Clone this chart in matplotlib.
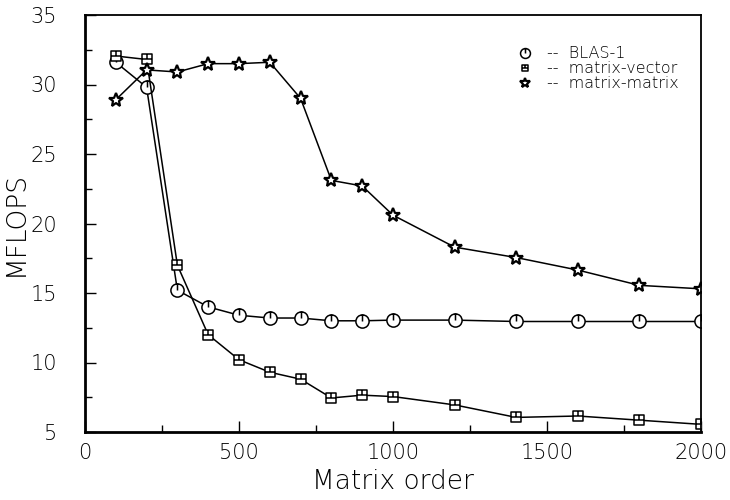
import matplotlib
matplotlib.use("Agg")
import matplotlib.pyplot as plt
from matplotlib.path import Path
import numpy as np

# matrix order sampled in the benchmark
order = [100, 200, 300, 400, 500, 600, 700, 800, 900, 1000, 1200, 1400, 1600, 1800, 2000]

# measured MFLOPS per kernel
blas1 = [31.6, 29.8, 15.2, 14.0, 13.4, 13.2, 13.2, 13.0, 13.0, 13.05, 13.05, 12.95, 12.95, 12.95, 12.95]
mat_vec = [32.05, 31.8, 17.0, 12.0, 10.2, 9.3, 8.8, 7.45, 7.65, 7.55, 6.95, 6.05, 6.15, 5.85, 5.55]
mat_mat = [28.9, 31.05, 30.9, 31.5, 31.5, 31.6, 29.0, 23.1, 22.7, 20.6, 18.3, 17.55, 16.65, 15.55, 15.3]

labels = ["--  BLAS-1", "--  matrix-vector", "--  matrix-matrix"]

plt.rcParams["font.weight"] = "light"
plt.rcParams["axes.labelweight"] = "light"

# circle with a stroke from the top down to the centre
circ = Path.unit_circle()
stem = Path([[0, 0], [0, 1]], [Path.MOVETO, Path.LINETO])
circle_mark = Path.make_compound_path(circ, stem)

# square with a cross in its upper half
sq = Path([[-1, -1], [1, -1], [1, 1], [-1, 1], [-1, -1]],
          [Path.MOVETO, Path.LINETO, Path.LINETO, Path.LINETO, Path.CLOSEPOLY])
cross = Path([[-1, 0], [1, 0], [0, 0], [0, 1]],
             [Path.MOVETO, Path.LINETO, Path.MOVETO, Path.LINETO])
square_mark = Path.make_compound_path(sq, cross)

fig = plt.figure(figsize=(7.3, 5.0), dpi=100)
ax = fig.add_axes([0.1164, 0.136, 0.8439, 0.834])

ax.plot(order, blas1, color="black", lw=1.1, marker=circle_mark, ms=9.5,
        mfc="white", mec="black", mew=1.1, label=labels[0])
ax.plot(order, mat_vec, color="black", lw=1.1, marker=square_mark, ms=6.5,
        mfc="white", mec="black", mew=1.1, label=labels[1])
ax.plot(order, mat_mat, color="black", lw=1.1, marker="*", ms=10.5,
        mfc="white", mec="black", mew=1.6, label=labels[2])

ax.set_xlim(0, 2000)
ax.set_ylim(5, 35)
ax.set_xticks(np.arange(0, 2001, 500))
ax.set_xticks(np.arange(0, 2001, 250), minor=True)
ax.set_yticks(np.arange(5, 36, 5))
ax.set_yticks(np.arange(5, 35.1, 2.5), minor=True)
ax.tick_params(which="major", direction="in", length=8, width=1, labelsize=15)
ax.tick_params(axis="x", which="major", pad=8)
ax.tick_params(axis="y", which="major", pad=20)
ax.tick_params(which="minor", direction="in", length=5, width=1)

for s in ax.spines.values():
    s.set_linewidth(1.3)
ax.spines["left"].set_linewidth(2)
ax.spines["bottom"].set_linewidth(2)

ax.set_xlabel("Matrix order", fontsize=19, labelpad=4)
ax.set_ylabel("MFLOPS", fontsize=19, labelpad=2)

ax.legend(loc="upper right", bbox_to_anchor=(0.987, 0.96), frameon=False,
          handlelength=0, handletextpad=1.4, fontsize=11.5, labelspacing=0.0,
          handleheight=0.4, markerscale=0.75)

fig.savefig("out.png", dpi=100)
